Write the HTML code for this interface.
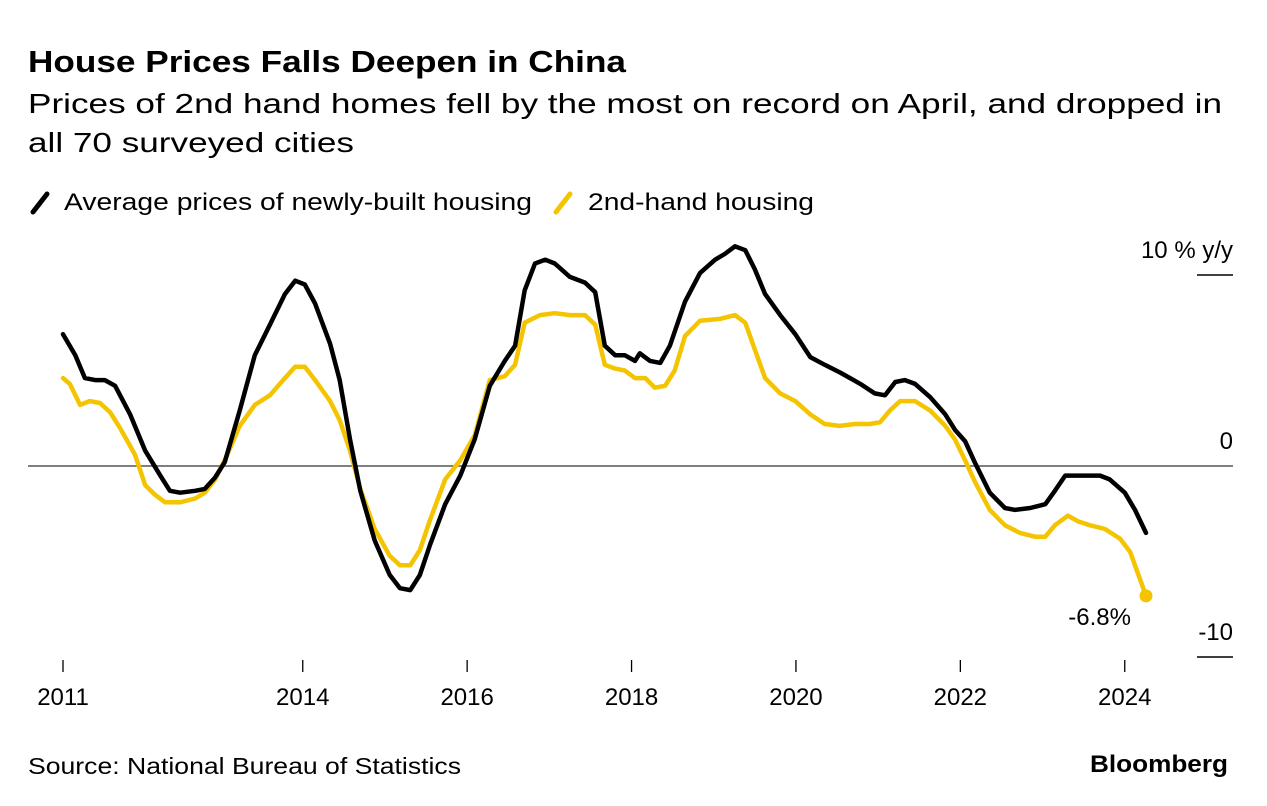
<!DOCTYPE html>
<html><head><meta charset="utf-8"><style>
body{margin:0;width:1267px;height:806px;background:#fff;font-family:"Liberation Sans",sans-serif;color:#000;overflow:hidden}
svg{position:absolute;left:0;top:0}
</style></head><body>
<svg width="1267" height="806">
<text x="28" y="72" font-size="31" font-weight="bold" textLength="598" lengthAdjust="spacingAndGlyphs">House Prices Falls Deepen in China</text>
<text x="28" y="113" font-size="28" textLength="1194" lengthAdjust="spacingAndGlyphs">Prices of 2nd hand homes fell by the most on record on April, and dropped in</text>
<text x="28" y="152" font-size="28" textLength="326" lengthAdjust="spacingAndGlyphs">all 70 surveyed cities</text>
<g><line x1="33" y1="212" x2="47" y2="194" stroke="#000" stroke-width="5" stroke-linecap="round"/><text x="64" y="210" font-size="24" textLength="468" lengthAdjust="spacingAndGlyphs">Average prices of newly-built housing</text></g>
<g><line x1="556" y1="212" x2="570" y2="194" stroke="#f5c400" stroke-width="5" stroke-linecap="round"/><text x="588" y="210" font-size="24" textLength="226" lengthAdjust="spacingAndGlyphs">2nd-hand housing</text></g>
<g id="axes"></g><g id="series"></g>
<text x="28" y="774" font-size="23" textLength="433" lengthAdjust="spacingAndGlyphs">Source: National Bureau of Statistics</text>
<text x="1090" y="772" font-size="24" font-weight="bold" textLength="138" lengthAdjust="spacingAndGlyphs">Bloomberg</text>
</svg>
<script>
const blackM=[0,1.8,3.2,4.7,6.1,7.6,9.8,12,14.2,15.6,17.1,19.3,20.7,22.2,23.6,25.8,28,30.2,32.4,33.9,35.3,36.8,39,40.4,41.9,43.4,45.5,47.7,49.2,50.7,52.1,53.6,55.8,58,60.1,62.3,64.5,66,67.4,68.9,70.4,71.8,74,76.2,77.7,79.1,80.6,82,83.5,84.2,85.7,87.2,88.6,90.8,93,95.2,96.6,98.1,99.6,101,102.5,104.7,106.9,109.1,111.2,113.4,114.9,116.4,118.5,120,121.5,122.9,124.4,126.6,128.8,130.2,131.7,133.1,135.3,137.5,139,141.2,143.4,144.8,146.3,147.7,149.2,151.4,152.8,155,156.5,158.1];
const blackV=[6.9,5.8,4.6,4.5,4.5,4.2,2.7,0.8,-0.5,-1.3,-1.4,-1.3,-1.2,-0.6,0.2,2.9,5.8,7.4,9,9.7,9.5,8.5,6.4,4.5,1.4,-1.3,-3.9,-5.7,-6.4,-6.5,-5.7,-4.1,-2,-0.5,1.4,4.2,5.5,6.3,9.2,10.6,10.8,10.6,9.9,9.6,9.1,6.3,5.8,5.8,5.5,5.9,5.5,5.4,6.3,8.6,10.1,10.8,11.1,11.5,11.3,10.3,9,7.9,6.9,5.7,5.3,4.9,4.6,4.3,3.8,3.7,4.4,4.5,4.3,3.6,2.7,1.9,1.3,0.2,-1.4,-2.2,-2.3,-2.2,-2,-1.3,-0.5,-0.5,-0.5,-0.5,-0.7,-1.4,-2.3,-3.5];
const yellowM=[0,1,2.5,3.9,5.4,6.9,8.3,10.5,12,13.4,14.9,17.1,19.3,20.7,22.2,23.6,25.8,28,30.2,32.4,33.9,35.3,36.8,39,40.4,41.9,43.4,45.5,47.7,49.2,50.7,52.1,53.6,55.8,58,60.1,62.3,64.5,66,67.4,69.6,71.8,74,76.2,77.7,79.1,80.6,82,83.5,85,86.4,87.9,89.3,90.8,93,95.9,98.1,99.6,101,102.5,104.7,106.9,109.1,111.2,113.4,115.6,117.8,119.3,120.7,122.2,124.4,126.6,128.8,130.2,131.7,133.1,135.3,137.5,139.7,141.9,143.4,144.8,146.7,148.2,149.9,152.1,154.3,155.8,158.1];
const yellowV=[4.6,4.3,3.2,3.4,3.3,2.8,2,0.6,-1,-1.5,-1.9,-1.9,-1.7,-1.4,-0.7,0.3,2.1,3.2,3.7,4.6,5.2,5.2,4.5,3.4,2.4,0.8,-1.2,-3.3,-4.7,-5.2,-5.2,-4.4,-2.8,-0.7,0.3,1.6,4.5,4.7,5.3,7.5,7.9,8,7.9,7.9,7.4,5.3,5.1,5,4.6,4.6,4.1,4.2,5,6.8,7.6,7.7,7.9,7.5,6.1,4.6,3.8,3.4,2.7,2.2,2.1,2.2,2.2,2.3,2.9,3.4,3.4,2.9,2.1,1.4,0.3,-0.8,-2.3,-3.1,-3.5,-3.7,-3.7,-3.1,-2.6,-2.9,-3.1,-3.3,-3.8,-4.5,-6.8];
const tickMonths=[0,35,59,83,107,131,155];
const tickLabels=['2011','2014','2016','2018','2020','2022','2024'];
const yTicks=[10,0,-10];
const yLabels=['10 % y/y','0','-10'];
const lastLabel='-6.8%';

const NS='http://www.w3.org/2000/svg';
const X=m=>63+m*6.85, Y=v=>466-v*19.1;
const axes=document.getElementById('axes'), ser=document.getElementById('series');
function mk(tag,at,parent){const e=document.createElementNS(NS,tag);for(const k in at)e.setAttribute(k,at[k]);parent.appendChild(e);return e;}
const zl=mk('line',{x1:28,x2:1233,y1:Y(0),y2:Y(0),stroke:'#555','stroke-width':1.5},axes);


tickMonths.forEach((m,i)=>{
  const t=mk('line',{x1:X(m),x2:X(m),y1:660,y2:672,stroke:'#000','stroke-width':1.3},axes);
  
  
  const l=mk('text',{x:X(m),y:705,'font-size':24,'text-anchor':'middle'},axes);
  l.textContent=tickLabels[i];
  
  
});
yTicks.forEach((v,i)=>{
  if(v!==0){const t=mk('line',{x1:1197,x2:1233,y1:Y(v),y2:Y(v),stroke:'#000','stroke-width':1.5},axes);
  
  }
  const l=mk('text',{x:1233,y:Y(v)-17,'font-size':24,'text-anchor':'end'},axes);
  l.textContent=yLabels[i];
  
  
});
function path(ms,vs,color,name){
  const d=ms.map((m,i)=>(i?'L':'M')+X(m).toFixed(1)+','+Y(vs[i]).toFixed(1)).join('');
  const p=mk('path',{d:d,fill:'none',stroke:color,'stroke-width':4.5,'stroke-linejoin':'round','stroke-linecap':'round'},ser);
  
  
}
path(yellowM,yellowV,'#f5c400','line-2nd-hand');
path(blackM,blackV,'#000','line-newly-built');
const n=yellowM.length-1;
const dot=mk('circle',{cx:X(yellowM[n]),cy:Y(yellowV[n]),r:6.5,fill:'#f5c400'},ser);


const lt=mk('text',{x:X(yellowM[n])-15,y:Y(yellowV[n])+29,'font-size':24,'text-anchor':'end'},ser);
lt.textContent=lastLabel;


</script>
</body></html>
